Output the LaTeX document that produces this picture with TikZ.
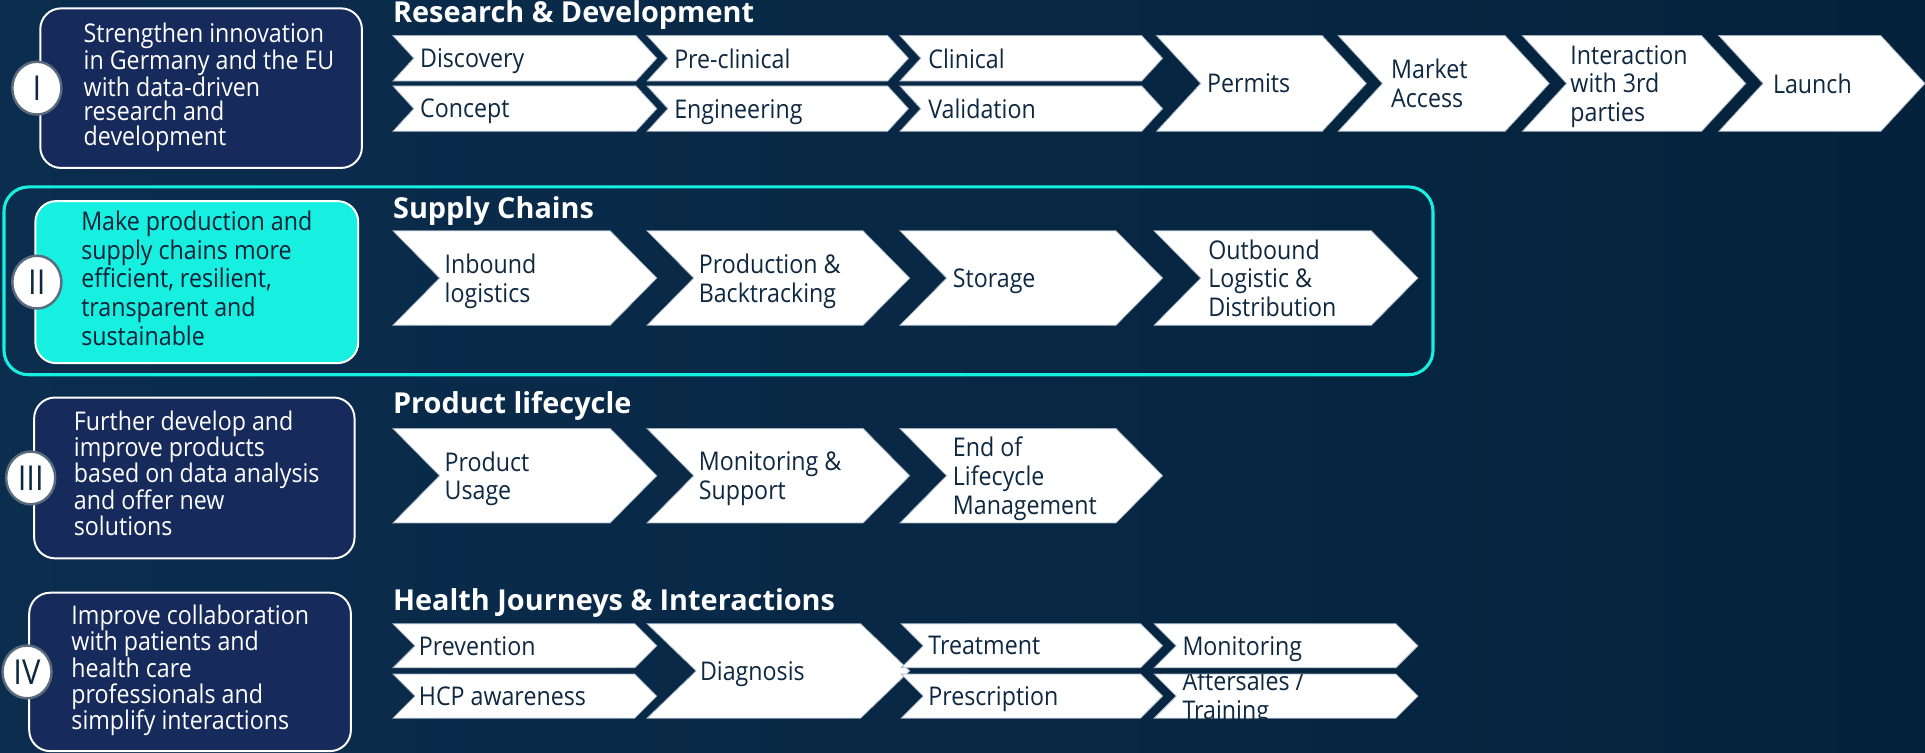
\documentclass[tikz,border=0pt]{standalone}
\usepackage{fontspec}
\setmainfont{Open Sans}[FakeStretch=0.9]
\newfontfamily\titlefont{Open Sans}
\usetikzlibrary{shapes.geometric}
\definecolor{bgL}{HTML}{0B2D4E}
\definecolor{bgR}{HTML}{04223B}
\definecolor{boxfill}{HTML}{172A5C}
\definecolor{cyanc}{HTML}{17EFE0}
\definecolor{navytext}{HTML}{0E2841}
\definecolor{darktext}{HTML}{0B1F35}
\definecolor{circline}{HTML}{5B6B7E}
\definecolor{chevline}{HTML}{A0AEBE}
\newcommand{\chvpath}[5]{(#1,#3) -- ({#2-#5},#3) -- (#2,{(#3+#4)/2}) -- ({#2-#5},#4) -- (#1,#4) -- ({#1+#5},{(#3+#4)/2}) -- cycle}
\newcommand{\chv}[6]{%
  \path[chevfill] \chvpath{#2}{#3}{#4}{#5}{#6};
  \coordinate (#1) at ({#2+#6},{(#4+#5)/2});
}
\begin{document}
\begin{tikzpicture}[x=1pt,y=-1pt,
  goalbox/.style={draw=white, line width=1.6pt, rounded corners=17pt, fill=boxfill, anchor=north west, inner sep=0pt},
  goalboxhi/.style={goalbox, fill=cyanc},
  numcirc/.style={ellipse, draw=circline, line width=2pt, fill=white, minimum width=40pt, minimum height=43pt, inner sep=0pt, text=navytext, font=\fontsize{28}{28}\selectfont},
  goaltext/.style={anchor=west, align=left, inner sep=0pt, text=white, text depth=0pt},
  sectitle/.style={anchor=base west, inner sep=0pt, text=white, font=\titlefont\bfseries\fontsize{23.5}{24}\selectfont},
  chevfill/.style={fill=white, draw=chevline, line width=0.6pt},
  chevtext/.style={anchor=west, align=left, inner sep=0pt, text=navytext, text depth=0pt, font=\fontsize{21}{23.5}\selectfont},
]
\useasboundingbox (0,0) rectangle (1568,613);
\fill[left color=bgL, right color=bgR] (0,0) rectangle (1568,613);

% group outline for II
\node[draw=cyanc, line width=2.5pt, rounded corners=20pt, minimum width=1164pt, minimum height=153pt, anchor=north west, inner sep=0pt] (grp) at (2,151) {};

% goal boxes
\node[goalbox, minimum width=262pt, minimum height=130pt] (g1) at (32,6) {};
\node[goalboxhi, minimum width=263pt, minimum height=132pt] (g2) at (28,163) {};
\node[goalbox, minimum width=261pt, minimum height=131pt] (g3) at (27,323) {};
\node[goalbox, minimum width=262pt, minimum height=129pt] (g4) at (23,482) {};

\node[goaltext, font=\fontsize{21}{20}\selectfont] (t1) at (68,68.5) {Strengthen innovation\\in Germany and the EU\\with data-driven\\research and\\development};
\node[goaltext, text=darktext, font=\fontsize{21}{23.5}\selectfont] (t2) at (66,226.5) {Make production and\\supply chains more\\efficient, resilient,\\transparent and\\sustainable};
\node[goaltext, font=\fontsize{21}{21}\selectfont] (t3) at (60,385.5) {Further develop and\\improve products\\based on data analysis\\and offer new\\solutions};
\node[goaltext, font=\fontsize{21}{21.5}\selectfont] (t4) at (58,543.5) {Improve collaboration\\with patients and\\health care\\professionals and\\simplify interactions};

\node[numcirc] (c1) at ([xshift=-2pt]g1.west) {I};
\node[numcirc] (c2) at ([xshift=2pt]g2.west) {II};
\node[numcirc] (c3) at ([xshift=-2pt]g3.west) {III};
\node[numcirc] (c4) at ([xshift=-1pt]g4.west) {IV};

% section titles
\node[sectitle] (s1) at (320,18) {Research \& Development};
\node[sectitle] (s2) at (320,178) {Supply Chains};
\node[sectitle] (s3) at (320,337) {Product lifecycle};
\node[sectitle] (s4) at (320,497) {Health Journeys \& Interactions};

% R&D chevrons
\chv{disc}{320}{535}{29}{66}{17}
\chv{conc}{320}{535}{70}{107}{17}
\chv{prec}{527}{740}{29}{66}{17}
\chv{engi}{527}{740}{70}{107}{17}
\chv{clin}{733}{947}{29}{66}{17}
\chv{vali}{733}{947}{70}{107}{17}
\chv{perm}{942}{1113}{29}{107}{36}
\chv{mark}{1090}{1262}{29}{107}{36}
\chv{inter}{1240}{1422}{29}{107}{36}
\chv{laun}{1400}{1568}{29}{107}{36}
\node[chevtext] (tdisc) at ([xshift=5pt]disc) {Discovery};
\node[chevtext] (tconc) at ([xshift=5pt]conc) {Concept};
\node[chevtext] (tprec) at ([xshift=5pt]prec) {Pre-clinical};
\node[chevtext] (tengi) at ([xshift=5pt]engi) {Engineering};
\node[chevtext] (tclin) at ([xshift=6pt]clin) {Clinical};
\node[chevtext] (tvali) at ([xshift=6pt]vali) {Validation};
\node[chevtext] (tperm) at ([xshift=5pt]perm) {Permits};
\node[chevtext] (tmark) at ([xshift=7pt]mark) {Market\\Access};
\node[chevtext] (tinter) at ([xshift=3pt]inter) {Interaction\\with 3rd\\parties};
\node[chevtext] (tlaun) at ([xshift=8pt]laun) {Launch};

% Supply chain chevrons
\chv{inb}{320}{535}{188}{265}{38}
\chv{prod}{527}{741}{188}{265}{38}
\chv{stor}{733}{947}{188}{265}{38}
\chv{outb}{940}{1155}{188}{265}{38}
\node[chevtext] (tinb) at ([xshift=4pt]inb) {Inbound\\logistics};
\node[chevtext] (tprod) at ([xshift=4pt]prod) {Production \&\\Backtracking};
\node[chevtext] (tstor) at ([xshift=5pt]stor) {Storage};
\node[chevtext] (toutb) at ([xshift=6pt]outb) {Outbound\\Logistic \&\\Distribution};

% Product lifecycle chevrons
\chv{usage}{320}{535}{349}{426}{38}
\chv{moni}{527}{741}{349}{426}{38}
\chv{eol}{733}{947}{349}{426}{38}
\node[chevtext] (tusage) at ([xshift=4pt]usage) {Product\\Usage};
\node[chevtext] (tmoni) at ([xshift=4pt]moni) {Monitoring \&\\Support};
\node[chevtext] (teol) at ([xshift=5pt]eol) {End of\\Lifecycle\\Management};

% Health chevrons
\chv{prev}{320}{535}{508}{544}{18}
\chv{hcp}{320}{535}{549}{585}{18}
\chv{diag}{527}{741}{508}{585}{40}
\chv{treat}{734}{947}{508}{544}{18}
\chv{presc}{734}{947}{549}{585}{18}
\chv{monit}{940}{1155}{508}{544}{18}
\chv{after}{940}{1155}{549}{585}{18}
\node[chevtext] (tprev) at ([xshift=3pt]prev) {Prevention};
\node[chevtext] (thcp) at ([xshift=3pt]hcp) {HCP awareness};
\node[chevtext] (tdiag) at ([xshift=3pt]diag) {Diagnosis};
\node[chevtext] (ttreat) at ([xshift=4pt]treat) {Treatment};
\node[chevtext] (tpresc) at ([xshift=4pt]presc) {Prescription};
\node[chevtext] (tmonit) at ([xshift=5pt]monit) {Monitoring};
\begin{scope}
  \clip \chvpath{940}{1155}{549}{585}{18};
  \node[chevtext] (tafter) at ([xshift=5pt,yshift=1pt]after) {Aftersales /\\Training};
\end{scope}
\end{tikzpicture}
\end{document}
